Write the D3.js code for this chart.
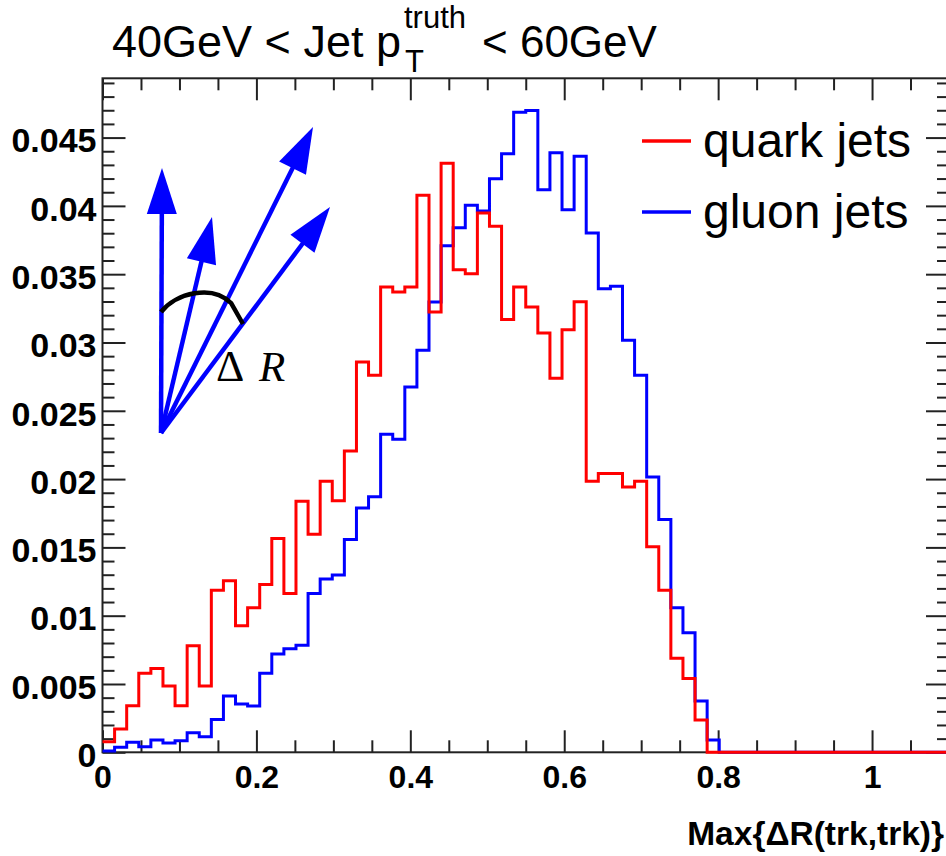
<!DOCTYPE html>
<html>
<head>
<meta charset="utf-8">
<script src="https://cdn.jsdelivr.net/npm/d3@7"></script>
<style>
  html, body { margin: 0; padding: 0; background: #fff; }
  svg { display: block; }
</style>
</head>
<body>
<svg id="chart" width="946" height="856"></svg>
<script>
// Histogram binning: 70 equal bins between 0 and 1.1
const binLow = 0;
const binHigh = 1.1;
const binCount = 70;

// Normalised entries per bin, Max{ΔR(trk,trk)}
const quarkJets = [
  0.00078, 0.00170, 0.00341, 0.00578, 0.00614, 0.00485, 0.00341, 0.00780, 0.00485, 0.01187,
  0.01255, 0.00926, 0.01058, 0.01229, 0.01565, 0.01163, 0.01838, 0.01597, 0.01985, 0.01841,
  0.02206, 0.02857, 0.02760, 0.03406, 0.03369, 0.03406, 0.04077, 0.03223, 0.04313, 0.03533,
  0.03504, 0.03947, 0.03850, 0.03168, 0.03406, 0.03260, 0.03070, 0.02738, 0.03094, 0.03298,
  0.01985, 0.02041, 0.02041, 0.01943, 0.01985, 0.01504, 0.01187, 0.00688, 0.00541, 0.00236,
  0, 0, 0, 0, 0, 0, 0, 0, 0, 0,
  0, 0, 0, 0, 0, 0, 0, 0, 0, 0
];
const gluonJets = [
  0.00010, 0.00037, 0.00073, 0.00041, 0.00090, 0.00068, 0.00085, 0.00143, 0.00114, 0.00241,
  0.00412, 0.00353, 0.00339, 0.00578, 0.00719, 0.00758, 0.00783, 0.01163, 0.01268, 0.01297,
  0.01558, 0.01789, 0.01870, 0.02328, 0.02292, 0.02674, 0.02943, 0.03296, 0.03709, 0.03840,
  0.04004, 0.03962, 0.04199, 0.04382, 0.04686, 0.04699, 0.04119, 0.04389, 0.03972, 0.04364,
  0.03801, 0.03394, 0.03411, 0.03016, 0.02760, 0.02016, 0.01704, 0.01058, 0.00875, 0.00375,
  0.00090, 0, 0, 0, 0, 0, 0, 0, 0, 0,
  0, 0, 0, 0, 0, 0, 0, 0, 0, 0
];

const xTickValues = [0, 0.2, 0.4, 0.6, 0.8, 1];
const xTickLabels = ["0", "0.2", "0.4", "0.6", "0.8", "1"];
const yTickValues = [0, 0.005, 0.01, 0.015, 0.02, 0.025, 0.03, 0.035, 0.04, 0.045];
const yTickLabels = ["0", "0.005", "0.01", "0.015", "0.02", "0.025", "0.03", "0.035", "0.04", "0.045"];

const seriesNames = ["quark jets", "gluon jets"];
const seriesColors = ["#ff0000", "#0000ff"];

const titleMain = "40GeV < Jet p";
const titleSup = "truth";
const titleSub = "T";
const titleTail = "< 60GeV";
const xAxisTitle = "Max{\u0394R(trk,trk)}";

// ---- layout ----
const svg = d3.select("#chart");
const frame = { left: 102.5, right: 949, top: 78.3, bottom: 752.3 };
const sans = "'Liberation Sans', Arial, Helvetica, sans-serif";
const serif = "'Liberation Serif', 'Times New Roman', serif";

svg.append("rect").attr("width", 946).attr("height", 856).attr("fill", "#fff");

const binWidth = (binHigh - binLow) / binCount;
const binEdges = d3.range(binCount + 1).map(i => binLow + i * binWidth);

// ROOT-style vertical range: 5% headroom above the tallest bin
const yMax = 1.05 * d3.max(quarkJets.concat(gluonJets));

const x = d3.scaleLinear().domain([binLow, binHigh]).range([frame.left, frame.right]);
const y = d3.scaleLinear().domain([0, yMax]).range([frame.bottom, frame.top]);

// ---- frame and ticks (ticks on all four sides, pointing inwards) ----
const axisColor = "#222";
const xMinor = d3.range(0, 23).map(i => +(i * 0.05).toFixed(2)).filter(v => !xTickValues.includes(v));
const yMinor = d3.range(0, 50).map(i => +(i * 0.001).toFixed(3)).filter(v => v <= yMax && !yTickValues.includes(v));

function styleAxis(g) {
  g.selectAll("path.domain").remove();
  g.selectAll("line").attr("stroke", axisColor).attr("stroke-width", 2);
}

// bottom
svg.append("g").attr("transform", `translate(0,${frame.bottom})`)
  .call(d3.axisBottom(x).tickValues(xTickValues).tickSizeInner(-22).tickSizeOuter(0).tickPadding(13)
    .tickFormat((d, i) => xTickLabels[i]))
  .call(styleAxis)
  .call(g => g.selectAll("text").attr("font-family", sans).attr("font-weight", "bold")
    .attr("font-size", 32).attr("fill", "#000"));
svg.append("g").attr("transform", `translate(0,${frame.bottom})`)
  .call(d3.axisBottom(x).tickValues(xMinor).tickSizeInner(-12).tickSizeOuter(0).tickFormat(""))
  .call(styleAxis);
// top
svg.append("g").attr("transform", `translate(0,${frame.top})`)
  .call(d3.axisTop(x).tickValues(xTickValues).tickSizeInner(-22).tickSizeOuter(0).tickFormat(""))
  .call(styleAxis);
svg.append("g").attr("transform", `translate(0,${frame.top})`)
  .call(d3.axisTop(x).tickValues(xMinor).tickSizeInner(-12).tickSizeOuter(0).tickFormat(""))
  .call(styleAxis);
// left
svg.append("g").attr("transform", `translate(${frame.left},0)`)
  .call(d3.axisLeft(y).tickValues(yTickValues).tickSizeInner(-23).tickSizeOuter(0).tickPadding(6)
    .tickFormat((d, i) => yTickLabels[i]))
  .call(styleAxis)
  .call(g => g.selectAll("text").attr("font-family", sans).attr("font-weight", "bold")
    .attr("font-size", 34).attr("fill", "#000").attr("dy", "0.42em"));
svg.append("g").attr("transform", `translate(${frame.left},0)`)
  .call(d3.axisLeft(y).tickValues(yMinor).tickSizeInner(-12).tickSizeOuter(0).tickFormat(""))
  .call(styleAxis);
// right
svg.append("g").attr("transform", `translate(${frame.right},0)`)
  .call(d3.axisRight(y).tickValues(yTickValues).tickSizeInner(-23).tickSizeOuter(0).tickFormat(""))
  .call(styleAxis);
svg.append("g").attr("transform", `translate(${frame.right},0)`)
  .call(d3.axisRight(y).tickValues(yMinor).tickSizeInner(-12).tickSizeOuter(0).tickFormat(""))
  .call(styleAxis);

svg.append("rect")
  .attr("x", frame.left).attr("y", frame.top)
  .attr("width", frame.right - frame.left).attr("height", frame.bottom - frame.top)
  .attr("fill", "none").attr("stroke", axisColor).attr("stroke-width", 2);

// ---- histograms as step outlines ----
function stepPoints(values) {
  const pts = values.map((v, i) => [binEdges[i], v]);
  pts.push([binEdges[binCount], values[binCount - 1]]);
  return pts;
}
const stepLine = d3.line().x(d => x(d[0])).y(d => y(d[1])).curve(d3.curveStepAfter);

// gluon first so the quark outline sits on top where they overlap
[[gluonJets, seriesColors[1]], [quarkJets, seriesColors[0]]].forEach(([vals, color]) => {
  svg.append("path")
    .attr("d", stepLine(stepPoints(vals)))
    .attr("fill", "none")
    .attr("stroke", color)
    .attr("stroke-width", 3)
    .attr("stroke-linejoin", "miter");
});

// ---- legend ----
const legend = svg.append("g");
seriesNames.forEach((name, i) => {
  const yy = 141 + i * 71;
  legend.append("line")
    .attr("x1", 642).attr("x2", 691).attr("y1", yy).attr("y2", yy)
    .attr("stroke", seriesColors[i]).attr("stroke-width", 3.5);
  legend.append("text")
    .attr("x", 703).attr("y", yy + 16)
    .attr("font-family", sans).attr("font-size", 48).attr("fill", "#000")
    .text(name);
});

// ---- title ----
const title = svg.append("g").attr("font-family", sans).attr("fill", "#000");
title.append("text").attr("x", 112).attr("y", 57).attr("font-size", 45).text(titleMain);
title.append("text").attr("x", 404).attr("y", 28).attr("font-size", 31).text(titleSup);
title.append("text").attr("x", 405).attr("y", 72).attr("font-size", 31).text(titleSub);
title.append("text").attr("x", 482).attr("y", 57).attr("font-size", 44).text(titleTail);

// ---- x axis title ----
svg.append("text")
  .attr("x", 944).attr("y", 845)
  .attr("text-anchor", "end")
  .attr("font-family", sans).attr("font-weight", "bold").attr("font-size", 33.5)
  .attr("fill", "#000")
  .text(xAxisTitle);

// ---- ΔR sketch: tracks from a common vertex and the opening angle ----
const sketch = svg.append("g");
const vertex = [161, 433];
const tips = [[162, 168], [212, 217], [313, 127], [330, 207]];
const headLen = 46, headHalf = 15;
tips.forEach(t => {
  const dx = t[0] - vertex[0], dy = t[1] - vertex[1];
  const len = Math.hypot(dx, dy);
  const ux = dx / len, uy = dy / len;
  const bx = t[0] - ux * headLen, by = t[1] - uy * headLen;
  sketch.append("line")
    .attr("x1", vertex[0]).attr("y1", vertex[1]).attr("x2", bx + ux * 2).attr("y2", by + uy * 2)
    .attr("stroke", "#0000ff").attr("stroke-width", 4.5);
  sketch.append("path")
    .attr("d", `M${t[0]},${t[1]}L${bx - uy * headHalf},${by + ux * headHalf}L${bx + uy * headHalf},${by - ux * headHalf}Z`)
    .attr("fill", "#0000ff");
});
sketch.append("path")
  .attr("d", "M161,312 C176,293 212,284 231,303 L243,324")
  .attr("fill", "none").attr("stroke", "#000").attr("stroke-width", 4.5);
sketch.append("text")
  .attr("x", 216).attr("y", 381)
  .attr("font-family", serif).attr("font-size", 44)
  .attr("fill", "#000").text("\u0394");
sketch.append("text")
  .attr("x", 259).attr("y", 381)
  .attr("font-family", serif).attr("font-size", 43)
  .attr("font-style", "italic").attr("fill", "#000").text("R");
</script>
</body>
</html>
